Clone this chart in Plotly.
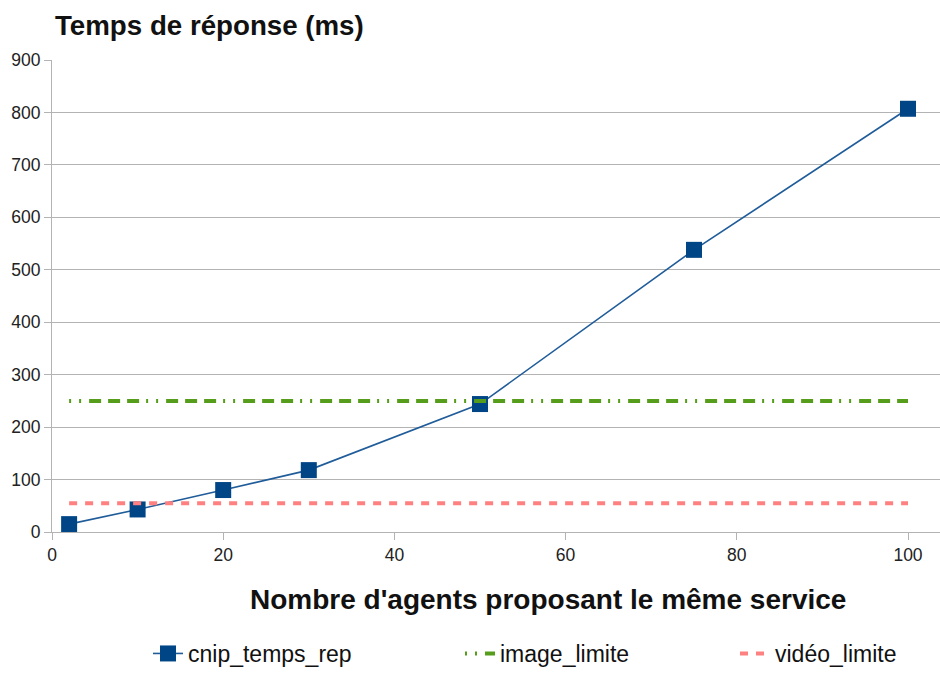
import plotly.graph_objects as go

# Number of agents offering the same service
agents = [2, 10, 20, 30, 50, 75, 100]
# Measured response time (ms)
cnip_temps_rep = [15, 43, 80, 118, 244, 538, 807]
# Thresholds (ms), drawn across the measured range
image_limite = 250
video_limite = 55

x_ticks = [0, 20, 40, 60, 80, 100]
y_ticks = [0, 100, 200, 300, 400, 500, 600, 700, 800, 900]

FONT = "Liberation Sans, Arial, sans-serif"
W, H = 940, 675
ML, MR, MT, MB = 52, 0, 60, 143

fig = go.Figure()

fig.add_trace(go.Scatter(
    x=agents, y=cnip_temps_rep, name="cnip_temps_rep",
    mode="lines+markers",
    line=dict(color="#1f5c99", width=1.6),
    marker=dict(symbol="square", size=16, color="#004586",
                line=dict(color="#004586", width=0)),
    legend="legend", showlegend=True,
))
fig.add_trace(go.Scatter(
    x=[agents[0], agents[-1]], y=[image_limite, image_limite],
    name="image_limite", mode="lines",
    line=dict(color="#579d1c", width=4,
              dash="2px,8px,2px,8px,12px,7px,12px,7px,12px,7px"),
    legend="legend2", showlegend=True,
))
fig.add_trace(go.Scatter(
    x=[agents[0], agents[-1]], y=[video_limite, video_limite],
    name="vidéo_limite", mode="lines",
    line=dict(color="#ff8080", width=4, dash="8px,8px"),
    legend="legend3", showlegend=True,
))

pw = W - ML - MR
ph = H - MT - MB
def px_to_paper(px):
    return (px - ML) / pw

def py_to_paper(py):
    return (H - MB - py) / ph

# Legends sit along the bottom edge of the page, one per series
legend_common = dict(orientation="h", yref="container", y=0.0,
                     yanchor="bottom", xanchor="left",
                     font=dict(family=FONT, size=23, color="#111"),
                     bgcolor="rgba(0,0,0,0)", borderwidth=0)

fig.update_layout(
    width=W, height=H,
    margin=dict(l=ML, r=MR, t=MT, b=MB),
    paper_bgcolor="white", plot_bgcolor="white",
    font=dict(family=FONT, color="#222"),
    showlegend=True,
    title=dict(text="<b>Temps de réponse (ms)</b>",
               font=dict(family=FONT, size=27.7, color="#111"),
               xref="container", yref="container",
               x=55 / W, xanchor="left", y=1 - 25 / H, yanchor="middle"),
    xaxis=dict(range=[0, pw / 8.56], tickvals=x_ticks, ticks="outside",
               ticklen=7, tickcolor="#b3b3b3", showgrid=False,
               showline=True, linecolor="#b3b3b3", linewidth=1,
               zeroline=False,
               tickfont=dict(family=FONT, size=17.5, color="#222")),
    yaxis=dict(range=[0, 900], tickvals=y_ticks, ticks="outside",
               ticklen=7, tickcolor="#b3b3b3", showgrid=True,
               gridcolor="#b3b3b3", gridwidth=1,
               showline=True, linecolor="#b3b3b3", linewidth=1,
               zeroline=False,
               tickfont=dict(family=FONT, size=17.5, color="#222")),
    legend=dict(**legend_common, x=px_to_paper(148)),
    legend2=dict(**legend_common, x=px_to_paper(460)),
    legend3=dict(**legend_common, x=px_to_paper(735)),
    annotations=[dict(
        text="<b>Nombre d'agents proposant le même service</b>",
        xref="paper", yref="paper",
        x=px_to_paper(548), y=py_to_paper(599), xanchor="center", yanchor="middle",
        showarrow=False, font=dict(family=FONT, size=28, color="#111"),
    )],
)

fig.write_html("out.html")
